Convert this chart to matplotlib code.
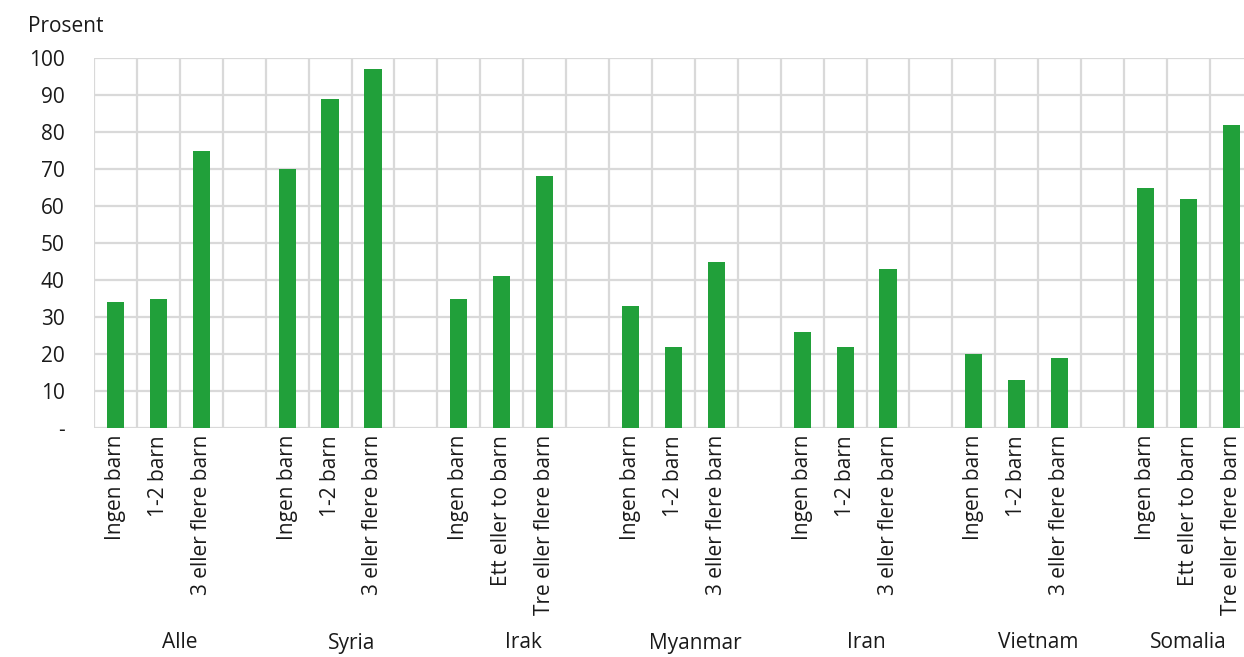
import matplotlib
matplotlib.use("Agg")
import matplotlib.pyplot as plt
import matplotlib.transforms as mtransforms
import numpy as np

plt.rcParams['font.family'] = ['Open Sans', 'DejaVu Sans']

groups = ["Alle", "Syria", "Irak", "Myanmar", "Iran", "Vietnam", "Somalia"]
sub_labels = [
    ["Ingen barn", "1-2 barn", "3 eller flere barn"],
    ["Ingen barn", "1-2 barn", "3 eller flere barn"],
    ["Ingen barn", "Ett eller to barn", "Tre eller flere barn"],
    ["Ingen barn", "1-2 barn", "3 eller flere barn"],
    ["Ingen barn", "1-2 barn", "3 eller flere barn"],
    ["Ingen barn", "1-2 barn", "3 eller flere barn"],
    ["Ingen barn", "Ett eller to barn", "Tre eller flere barn"],
]
values = [
    [34, 35, 75],
    [70, 89, 97],
    [35, 41, 68],
    [33, 22, 45],
    [26, 22, 43],
    [20, 13, 19],
    [65, 62, 82],
]
yticks = [0, 10, 20, 30, 40, 50, 60, 70, 80, 90, 100]
ytick_labels = ["-", "10", "20", "30", "40", "50", "60", "70", "80", "90", "100"]

W, H = 1244, 657
fig = plt.figure(figsize=(W / 100, H / 100), dpi=100)
slot_px = 42.92
left_px, right_px = 94, 1244
top_px, bottom_px = 58, 428
ax = fig.add_axes([left_px / W, 1 - bottom_px / H, (right_px - left_px) / W, (bottom_px - top_px) / H])

color = "#21a03a"
grid_c = "#d9d9d9"
txt_c = "#1a1a1a"
fs = 15

xs, hs, labs = [], [], []
for gi, (vals, labels) in enumerate(zip(values, sub_labels)):
    for si, (v, l) in enumerate(zip(vals, labels)):
        xs.append(gi * 4 + si)
        hs.append(v)
        labs.append(l)

ax.bar(xs, hs, width=0.4, color=color, zorder=3)

nslots = len(groups) * 4 - 1

ax.set_yticks(yticks)
ax.set_yticklabels(ytick_labels, fontsize=fs)
ax.set_xticks(xs)
ax.set_xticklabels(labs, rotation=90, fontsize=fs, va="top", ha="center")
ax.set_xticks(np.arange(-0.5, nslots + 0.5, 1.0), minor=True)
ax.set_xlim(-0.5, -0.5 + (right_px - left_px) / slot_px)
ax.set_ylim(0, 100)
ax.tick_params(axis="x", which="both", length=0, pad=5)
ax.tick_params(axis="y", length=0, pad=21)
for lab in ax.get_yticklabels():
    lab.set_color(txt_c)
for lab in ax.get_xticklabels():
    lab.set_color(txt_c)

ax.grid(True, axis="y", which="major", color=grid_c, linewidth=1.6, zorder=0)
ax.grid(True, axis="x", which="minor", color=grid_c, linewidth=1.6, zorder=0)
ax.grid(False, axis="x", which="major")
for s in ax.spines.values():
    s.set_visible(False)
ax.set_axisbelow(True)

trans = mtransforms.blended_transform_factory(ax.transData, fig.transFigure)
for gi, g in enumerate(groups):
    gx = gi * 4 + 1.5
    if gi == len(groups) - 1:
        gx = gi * 4 + 1.0  # last label pushed inside the chart edge
    ax.text(gx, 1 - 643 / H, g, transform=trans, ha="center", va="center",
            fontsize=fs, color=txt_c, clip_on=False)

fig.text(28 / W, 1 - 26 / H, "Prosent", ha="left", va="center", fontsize=fs, color=txt_c)

fig.savefig("out.png", dpi=100)
